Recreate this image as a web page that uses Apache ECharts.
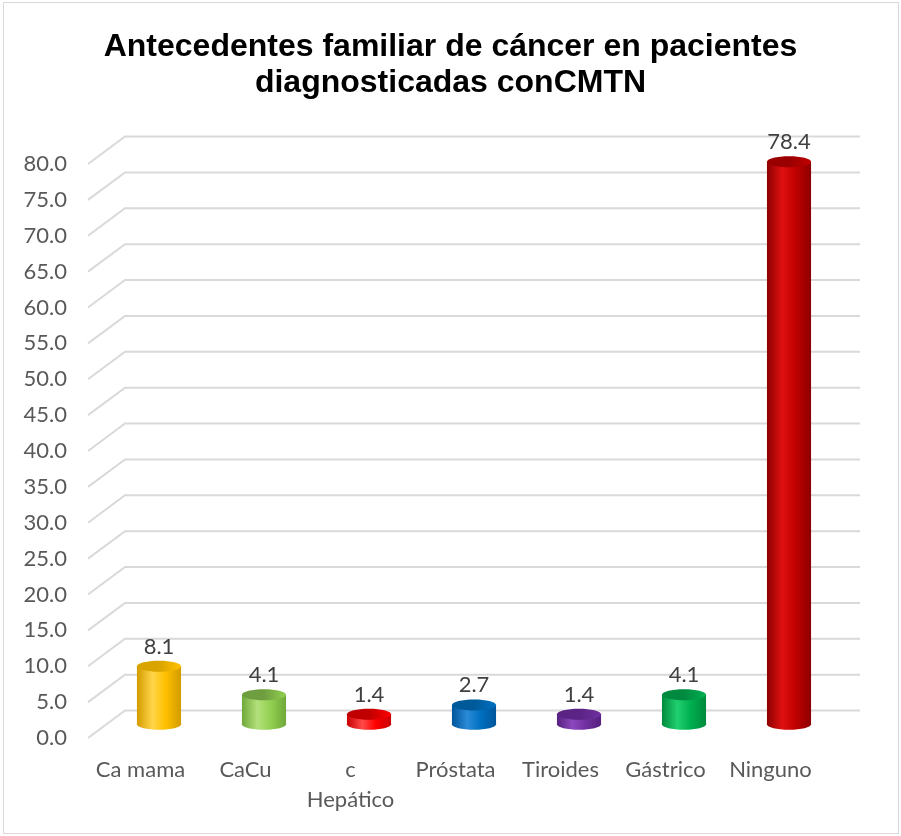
<!DOCTYPE html>
<html>
<head>
<meta charset="utf-8">
<script src="https://cdn.jsdelivr.net/npm/echarts@6/dist/echarts.min.js"></script>
<style>
  body { margin: 0; background: #fff; }
  #chart { position: absolute; left: 0; top: 0; width: 901px; height: 836px; }
  .frame { position: absolute; left: 3px; top: 2px; width: 894px; height: 830px; border: 1px solid #d9d9d9; pointer-events: none; }
</style>
</head>
<body>
<div id="chart"></div>
<div class="frame"></div>
<script>
const categories = ['Ca mama', 'CaCu', 'c\nHepático', 'Próstata', 'Tiroides', 'Gástrico', 'Ninguno']
const values = [8.1, 4.1, 1.4, 2.7, 1.4, 4.1, 78.4]
const yTicks = [0, 5, 10, 15, 20, 25, 30, 35, 40, 45, 50, 55, 60, 65, 70, 75, 80]

// colores de cada cilindro: borde oscuro, centro claro, base, tapa
const barColors = [
  ['#d39b00', '#ffd54a', '#ffc000', '#d9a400'],
  ['#6fa83a', '#b3e07a', '#92d050', '#6f9e40'],
  ['#c80000', '#ff4a4a', '#ff0000', '#c00000'],
  ['#00559a', '#2a8ad8', '#0070c0', '#005a9a'],
  ['#55207e', '#8c48be', '#7030a0', '#5a2385'],
  ['#008a3c', '#20d070', '#00b050', '#008a40'],
  ['#8c0000', '#e01010', '#c00000', '#9a0000']
]

// desplazamiento de la profundidad (frente -> fondo)
const depthX = 37
const depthY = -27.5

const chart = echarts.init(document.getElementById('chart'))

const option = {
  animation: false,
  title: {
    text: 'Antecedentes familiar de cáncer en pacientes\ndiagnosticadas conCMTN',
    left: 'center',
    top: 24,
    textStyle: {
      fontFamily: 'Liberation Sans',
      fontWeight: 'bold',
      fontSize: 32,
      lineHeight: 36,
      color: '#000'
    }
  },
  grid: [
    // plano frontal (etiquetas)
    { left: 88, right: 78, top: 164, bottom: 98 },
    // plano medio (cilindros)
    { left: 106.5, right: 59.5, top: 150.25, bottom: 111.75 }
  ],
  xAxis: [
    {
      gridIndex: 0,
      type: 'category',
      data: categories,
      axisLine: { show: false },
      axisTick: { show: false },
      axisLabel: {
        interval: 0,
        margin: 17,
        fontFamily: 'Lato',
        fontSize: 22,
        lineHeight: 30,
        color: '#595959'
      }
    },
    { gridIndex: 0, type: 'value', min: 0, max: 1, show: false },
    { gridIndex: 1, type: 'category', data: categories, show: false }
  ],
  yAxis: [
    {
      gridIndex: 0,
      type: 'value',
      min: 0,
      max: 80,
      interval: 5,
      axisLine: { show: false },
      axisTick: { show: false },
      splitLine: { show: false },
      axisLabel: {
        margin: 21,
        fontFamily: 'Lato',
        fontSize: 22,
        color: '#595959',
        padding: [8, 0, 0, 0],
        formatter: v => v.toFixed(1)
      }
    },
    { gridIndex: 1, type: 'value', min: 0, max: 80, show: false }
  ],
  series: [
    {
      // lineas de division en perspectiva
      type: 'custom',
      xAxisIndex: 1,
      yAxisIndex: 0,
      z: 1,
      silent: true,
      data: yTicks.map(v => [0, v]),
      renderItem: (params, api) => {
        const p0 = api.coord([0, api.value(1)])
        const pe = api.coord([1, api.value(1)])
        return {
          type: 'polyline',
          shape: {
            points: [p0, [p0[0] + depthX, p0[1] + depthY], [pe[0] + depthX, pe[1] + depthY]]
          },
          style: { stroke: '#d9d9d9', lineWidth: 2, fill: null }
        }
      }
    },
    {
      // cilindros
      type: 'custom',
      xAxisIndex: 2,
      yAxisIndex: 1,
      z: 5,
      data: values.map((v, i) => [i, v]),
      renderItem: (params, api) => {
        const i = api.value(0)
        const top = api.coord([i, api.value(1)])
        const base = api.coord([i, 0])
        const w = api.size([1, 0])[0] * 0.42
        const ry = 5.5
        const c = barColors[i]
        const bodyFill = {
          type: 'linear', x: 0, y: 0, x2: 1, y2: 0,
          colorStops: [
            { offset: 0, color: c[0] },
            { offset: 0.35, color: c[1] },
            { offset: 0.65, color: c[2] },
            { offset: 1, color: c[0] }
          ]
        }
        const topFill = {
          type: 'linear', x: 0, y: 0, x2: 1, y2: 0,
          colorStops: [
            { offset: 0, color: c[3] },
            { offset: 0.5, color: c[3] },
            { offset: 1, color: c[2] }
          ]
        }
        return {
          type: 'group',
          children: [
            {
              type: 'rect',
              shape: { x: top[0] - w / 2, y: top[1], width: w, height: base[1] - top[1] },
              style: { fill: bodyFill }
            },
            {
              type: 'ellipse',
              shape: { cx: base[0], cy: base[1], rx: w / 2, ry: ry },
              style: { fill: bodyFill }
            },
            {
              type: 'ellipse',
              shape: { cx: top[0], cy: top[1], rx: w / 2, ry: ry },
              style: { fill: topFill }
            },
            {
              type: 'text',
              style: {
                x: top[0],
                y: top[1] - ry - 3,
                text: api.value(1).toFixed(1),
                align: 'center',
                verticalAlign: 'bottom',
                fontFamily: 'Lato',
                fontSize: 22,
                fill: '#404040'
              }
            }
          ]
        }
      }
    }
  ]
}

chart.setOption(option)
</script>
</body>
</html>
